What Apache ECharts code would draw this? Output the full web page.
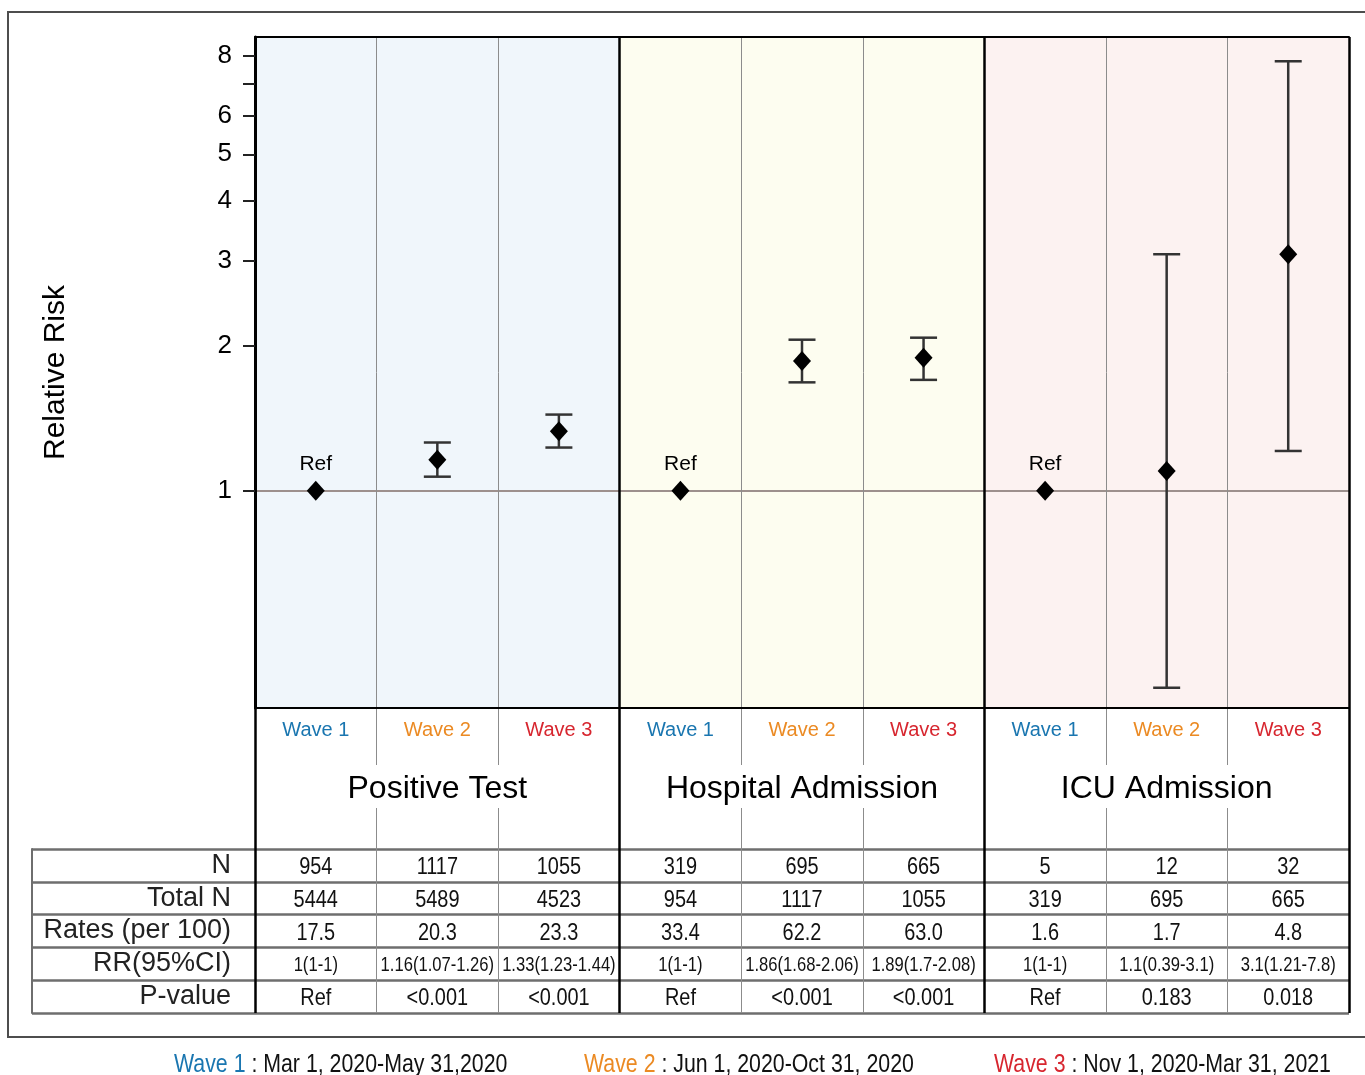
<!DOCTYPE html>
<html>
<head>
<meta charset="utf-8">
<script src="https://cdn.jsdelivr.net/npm/echarts@6/dist/echarts.min.js"></script>
<style>
  html, body { margin: 0; padding: 0; background: #fff; }
  #chart { width: 1365px; height: 1075px; }
</style>
</head>
<body>
<div id="chart"></div>
<script>
// ---- Data ----
const waveLabels = ['Wave 1', 'Wave 2', 'Wave 3', 'Wave 1', 'Wave 2', 'Wave 3', 'Wave 1', 'Wave 2', 'Wave 3'];
const outcomeGroups = ['Positive Test', 'Hospital Admission', 'ICU Admission'];
const relRisk = [1, 1.16, 1.33, 1, 1.86, 1.89, 1, 1.1, 3.1];
const ciLower = [1, 1.07, 1.23, 1, 1.68, 1.7, 1, 0.39, 1.21];
const ciUpper = [1, 1.26, 1.44, 1, 2.06, 2.08, 1, 3.1, 7.8];
const eventCounts = ['954', '1117', '1055', '319', '695', '665', '5', '12', '32'];
const totalCounts = ['5444', '5489', '4523', '954', '1117', '1055', '319', '695', '665'];
const ratesPer100 = ['17.5', '20.3', '23.3', '33.4', '62.2', '63.0', '1.6', '1.7', '4.8'];
const pValues = ['Ref', '<0.001', '<0.001', 'Ref', '<0.001', '<0.001', 'Ref', '0.183', '0.018'];
const rowLabels = ['N', 'Total N', 'Rates (per 100)', 'RR(95%CI)', 'P-value'];
const yTickValues = [1, 2, 3, 4, 5, 6, 7, 8];
const yLabelValues = [1, 2, 3, 4, 5, 6, 8];
const wavePeriods = [' : Mar 1, 2020-May 31,2020', ' : Jun 1, 2020-Oct 31, 2020', ' : Nov 1, 2020-Mar 31, 2021'];

// ---- Styling ----
const waveColors = ['#1a76b0', '#eb8a23', '#d7262f'];
const bandColors = ['#f0f6fb', '#fdfdf0', '#fcf2f1'];
const SANS = '"Liberation Sans", Arial, Helvetica, sans-serif';
const THIN = '#8c8c8c';
const ROWLINE = '#6e6e6e';
const CONDENSE = 0.83;   // horizontal squeeze for the narrow table / footer text

// Table text built from the series values
const rrText = relRisk.map((v, i) => `${v}(${ciLower[i]}-${ciUpper[i]})`);
const tableRows = [eventCounts, totalCounts, ratesPer100, rrText, pValues];
const tableCells = [];
tableRows.forEach((row, r) => row.forEach((_, c) => tableCells.push([c, r])));

const chart = echarts.init(document.getElementById('chart'), null, { renderer: 'canvas' });

const hiddenAxis = (grid, extra) => Object.assign({
  gridIndex: grid, type: 'value', min: 0, max: 1, show: false
}, extra || {});

const splitCatAxis = (grid, extra) => Object.assign({
  gridIndex: grid, type: 'category', data: waveLabels,
  axisLine: { show: false }, axisTick: { show: false }, axisLabel: { show: false },
  splitLine: { show: true, interval: 0, lineStyle: { color: THIN, width: 1 } }
}, extra || {});

// Footer: period of each wave
const footer = wavePeriods.map((p, i) => ({
  type: 'text', silent: true,
  x: [174, 584, 994][i], y: 1065, scaleX: 0.82,
  style: {
    text: `{w|${waveLabels[i]}}{t|${p}}`,
    verticalAlign: 'middle', align: 'left',
    rich: {
      w: { fill: waveColors[i], fontSize: 26, fontFamily: SANS },
      t: { fill: '#111', fontSize: 26, fontFamily: SANS }
    }
  }
}));

const option = {
  animation: false,
  backgroundColor: '#fff',
  graphic: [{
    type: 'rect', silent: true, z: -10,
    shape: { x: 8, y: 12, width: 1372, height: 1025 },
    style: { fill: 'none', stroke: '#4d4d4d', lineWidth: 2 }
  }].concat(footer),
  grid: [
    { left: 255, top: 37, width: 1094, height: 671 },             // 0 forest plot
    { left: 255, top: 708, width: 1094, height: 57 },             // 1 label strip (upper)
    { left: 255, top: 808, width: 1094, height: 41 },             // 2 label strip (lower)
    { left: 255, top: 849, width: 1094, height: 164 },            // 3 table body
    { left: 32, top: 849, width: 223, height: 164 },              // 4 table row-label column
    { left: 255, top: 37, width: 1094, height: 976 }              // 5 outcome group frame
  ],
  xAxis: [
    { // 0: waves
      gridIndex: 0, type: 'category', data: waveLabels, position: 'bottom', z: 3,
      axisLine: { lineStyle: { color: '#000', width: 2 } },
      axisTick: { alignWithLabel: true, interval: 0, length: 9, lineStyle: { color: '#333', width: 2 } },
      axisLabel: {
        interval: 0, margin: 12, fontSize: 20, fontFamily: SANS,
        color: (v, i) => waveColors[i % 3]
      },
      splitLine: { show: true, interval: 0, lineStyle: { color: THIN, width: 1 } }
    },
    { // 1: band positions + top border
      gridIndex: 0, type: 'value', min: 0, max: 9, position: 'top', z: 4,
      axisLine: { show: true, lineStyle: { color: '#000', width: 2 } },
      axisTick: { show: false }, axisLabel: { show: false }, splitLine: { show: false }
    },
    splitCatAxis(1),                                              // 2
    { // 3: outcome titles
      gridIndex: 1, type: 'category', data: outcomeGroups, position: 'bottom',
      axisLine: { show: false }, axisTick: { show: false }, splitLine: { show: false },
      axisLabel: { interval: 0, margin: 8, fontSize: 32, fontFamily: SANS, color: '#000' }
    },
    splitCatAxis(2),                                              // 4
    splitCatAxis(3),                                              // 5
    hiddenAxis(4),                                                // 6
    { // 7: thick outcome group dividers
      gridIndex: 5, type: 'value', min: 0, max: 9, interval: 3, z: 4,
      axisLine: { show: false }, axisTick: { show: false }, axisLabel: { show: false },
      splitLine: { show: true, lineStyle: { color: '#000', width: 2.5 } }
    }
  ],
  yAxis: [
    { // 0: relative risk (log scale)
      gridIndex: 0, type: 'log', logBase: 2, min: 0.354, max: 8.76, z: 4,
      name: 'Relative Risk', nameLocation: 'middle', nameRotate: 90, nameGap: 184,
      nameTextStyle: { fontSize: 30, fontFamily: SANS, color: '#000' },
      axisLine: { show: true, lineStyle: { color: '#000', width: 3 } },
      axisTick: { show: true, length: 12, customValues: yTickValues, lineStyle: { color: '#222', width: 2 } },
      axisLabel: { customValues: yLabelValues, margin: 23, fontSize: 26, fontFamily: SANS, color: '#000' },
      splitLine: { show: false }, minorTick: { show: false }
    },
    hiddenAxis(1),
    hiddenAxis(2),
    { // 3: table rows
      gridIndex: 3, type: 'category', data: rowLabels, inverse: true,
      axisLine: { show: false }, axisTick: { show: false },
      axisLabel: { interval: 0, margin: 24, fontSize: 27, fontFamily: SANS, color: '#222' },
      splitLine: { show: true, interval: 0, lineStyle: { color: ROWLINE, width: 2.5 } }
    },
    { // 4: row-label column lines
      gridIndex: 4, type: 'category', data: rowLabels, inverse: true,
      axisLine: { show: true, lineStyle: { color: ROWLINE, width: 2 } },
      axisTick: { show: false }, axisLabel: { show: false },
      splitLine: { show: true, interval: 0, lineStyle: { color: ROWLINE, width: 2.5 } }
    },
    hiddenAxis(5)
  ],
  series: [
    { // outcome background bands + null line at RR = 1
      type: 'scatter', xAxisIndex: 1, yAxisIndex: 0, data: [], silent: true,
      markArea: {
        silent: true, z: 1,
        data: outcomeGroups.map((g, k) => [
          { xAxis: k * 3, itemStyle: { color: bandColors[k] } },
          { xAxis: k * 3 + 3 }
        ])
      },
      markLine: {
        silent: true, z: 2, symbol: ['none', 'none'], label: { show: false },
        lineStyle: { color: '#9d908d', width: 2, type: 'solid' },
        data: [{ yAxis: 1 }]
      }
    },
    { // 95% confidence intervals
      type: 'custom', xAxisIndex: 0, yAxisIndex: 0, z: 5, silent: true,
      encode: { x: 0, y: [1, 2] },
      data: relRisk.map((v, i) => [i, ciLower[i], ciUpper[i]]),
      renderItem: (params, api) => {
        const i = api.value(0), lo = api.value(1), hi = api.value(2);
        if (lo === hi) return null;
        const top = api.coord([i, hi]);
        const bot = api.coord([i, lo]);
        const half = 13.5;
        const st = { stroke: '#333', lineWidth: 2.5 };
        return {
          type: 'group',
          children: [
            { type: 'line', shape: { x1: top[0], y1: top[1], x2: bot[0], y2: bot[1] }, style: st },
            { type: 'line', shape: { x1: top[0] - half, y1: top[1], x2: top[0] + half, y2: top[1] }, style: st },
            { type: 'line', shape: { x1: bot[0] - half, y1: bot[1], x2: bot[0] + half, y2: bot[1] }, style: st }
          ]
        };
      }
    },
    { // point estimates
      type: 'scatter', xAxisIndex: 0, yAxisIndex: 0, z: 6, silent: true,
      symbol: 'diamond', symbolSize: [18, 20],
      itemStyle: { color: '#000', opacity: 1 },
      data: relRisk.map((v, i) => [i, v]),
      label: {
        show: true, position: 'top', distance: 6,
        fontSize: 21, fontFamily: SANS, color: '#000',
        formatter: p => (pValues[p.dataIndex] === 'Ref' ? 'Ref' : '')
      }
    },
    { // table cells
      type: 'custom', xAxisIndex: 5, yAxisIndex: 3, z: 5, silent: true,
      data: tableCells,
      renderItem: (params, api) => {
        const c = api.value(0), r = api.value(1);
        const p = api.coord([c, r]);
        const small = r === 3;
        return {
          type: 'text', x: p[0], y: p[1] + 2, scaleX: CONDENSE,
          style: {
            text: tableRows[r][c], align: 'center', verticalAlign: 'middle',
            fill: '#111', fontSize: small ? 20 : 24, fontFamily: SANS
          }
        };
      }
    }
  ]
};

chart.setOption(option);
</script>
</body>
</html>
